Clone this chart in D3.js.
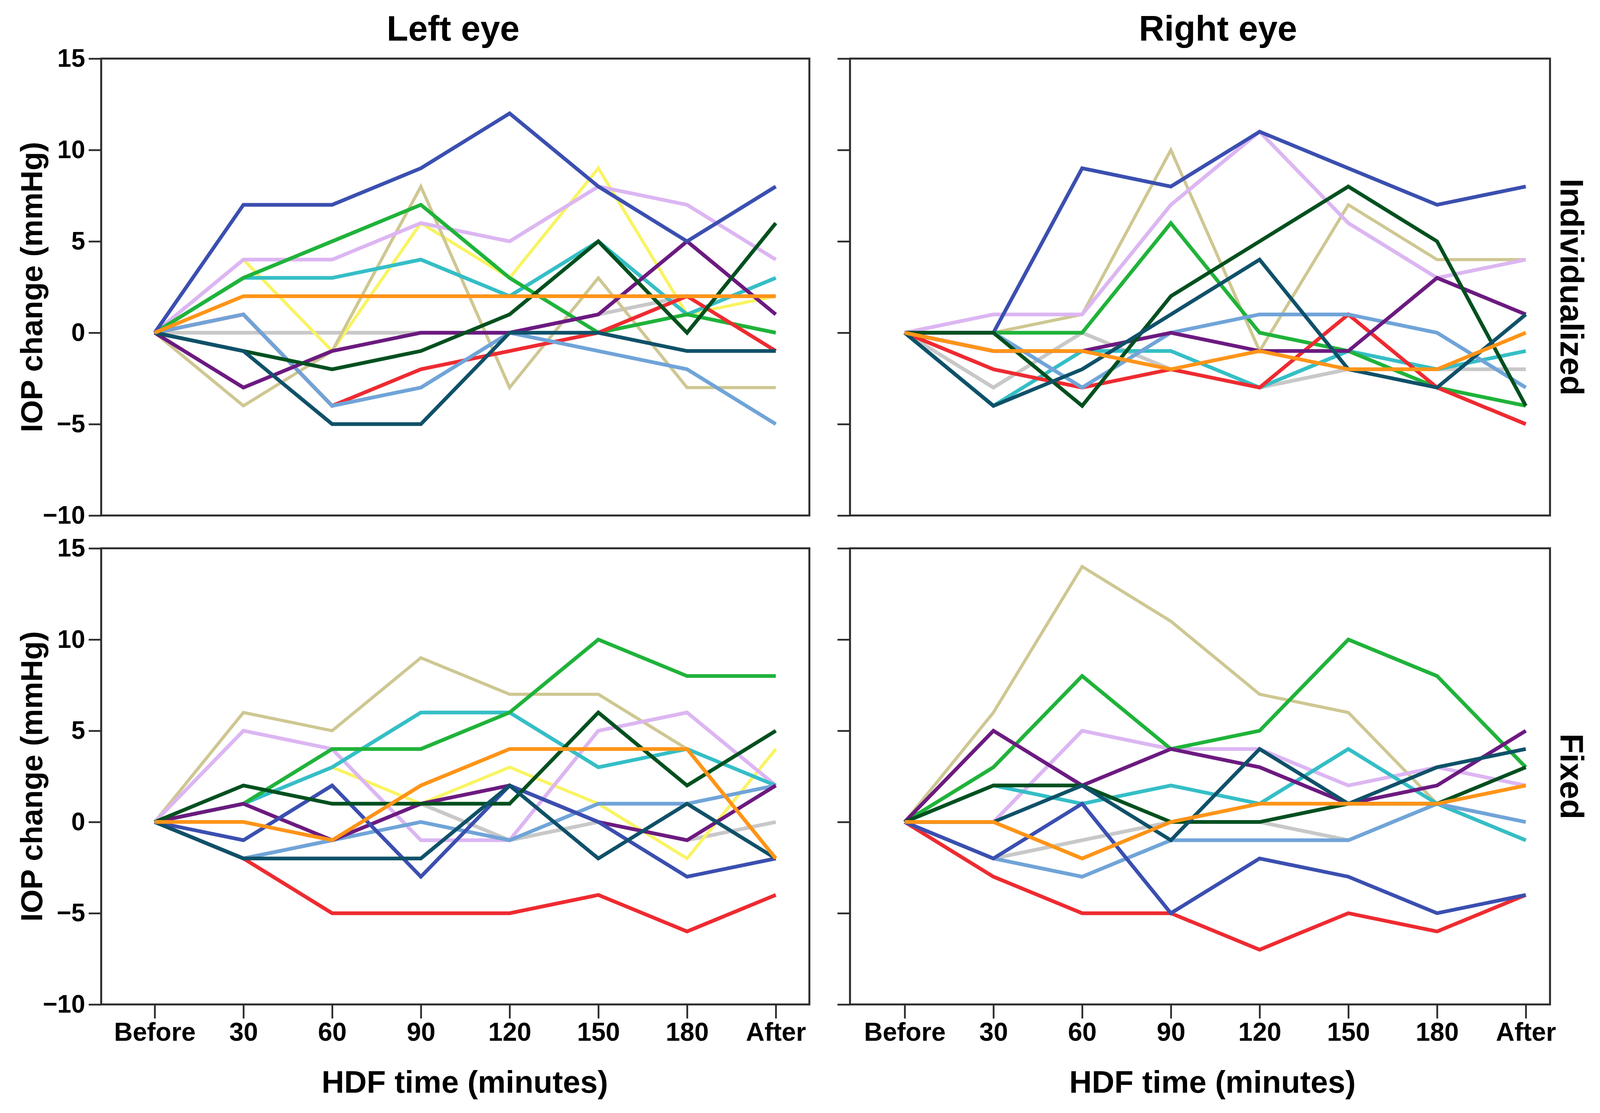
<!DOCTYPE html>
<html>
<head>
<meta charset="utf-8">
<script src="https://cdn.jsdelivr.net/npm/d3@7"></script>
<style>
  html, body { margin: 0; padding: 0; background: #fff; overflow: hidden; }
  svg { display: block; }
  svg text { font-family: "Liberation Sans", Arial, sans-serif; font-weight: bold; fill: #000; }
</style>
</head>
<body>
<svg id="chart"></svg>
<script>
// time points on the x axis
var times = ['Before', '30', '60', '90', '120', '150', '180', 'After']
var yTicks = [-10, -5, 0, 5, 10, 15]

// one colour per patient
var patientColors = ['#3b4fb0', '#1fb33a', '#dcb6f2', '#35bec6', '#ff9418', '#f9f462', '#cec792',
                     '#6c1a80', '#00501f', '#ee2b31', '#70a4d8', '#0f5169', '#c8c8c8']

// IOP change per patient, same order as the colours (null = not measured)
var leftIndividualized = [
  [0, 7, 7, 9, 12, 8, 5, 8],
  [0, 3, 5, 7, 3, 0, 1, 0],
  [0, 4, 4, 6, 5, 8, 7, 4],
  [0, 3, 3, 4, 2, 5, 1, 3],
  [0, 2, 2, 2, 2, 2, 2, 2],
  [0, 4, -1, 6, 3, 9, 1, 2],
  [0, -4, -1, 8, -3, 3, -3, -3],
  [0, -3, -1, 0, 0, 1, 5, 1],
  [0, -1, -2, -1, 1, 5, 0, 6],
  [0, 1, -4, -2, -1, 0, 2, -1],
  [0, 1, -4, -3, 0, -1, -2, -5],
  [0, -1, -5, -5, 0, 0, -1, -1],
  [0, 0, 0, 0, 0, 1, 2, 2]
]
var rightIndividualized = [
  [0, 0, 9, 8, 11, 9, 7, 8],
  [0, 0, 0, 6, 0, -1, -3, -4],
  [0, 1, 1, 7, 11, 6, 3, 4],
  [0, -4, -1, -1, -3, -1, -2, -1],
  [0, -1, -1, -2, -1, -2, -2, 0],
  null,
  [0, 0, 1, 10, -1, 7, 4, 4],
  [0, -1, -1, 0, -1, -1, 3, 1],
  [0, 0, -4, 2, 5, 8, 5, -4],
  [0, -2, -3, -2, -3, 1, -3, -5],
  [0, 0, -3, 0, 1, 1, 0, -3],
  [0, -4, -2, 1, 4, -2, -3, 1],
  [0, -3, 0, -2, -3, -2, -2, -2]
]
var leftFixed = [
  [0, -1, 2, -3, 2, 0, -3, -2],
  [0, 1, 4, 4, 6, 10, 8, 8],
  [0, 5, 4, -1, -1, 5, 6, 2],
  [0, 1, 3, 6, 6, 3, 4, 2],
  [0, 0, -1, 2, 4, 4, 4, -2],
  [0, 1, 3, 1, 3, 1, -2, 4],
  [0, 6, 5, 9, 7, 7, 4, 2],
  [0, 1, -1, 1, 2, 0, -1, 2],
  [0, 2, 1, 1, 1, 6, 2, 5],
  [0, -2, -5, -5, -5, -4, -6, -4],
  [0, -2, -1, 0, -1, 1, 1, 2],
  [0, -2, -2, -2, 2, -2, 1, -2],
  [0, -2, -1, 1, -1, 0, -1, 0]
]
var rightFixed = [
  [0, -2, 1, -5, -2, -3, -5, -4],
  [0, 3, 8, 4, 5, 10, 8, 3],
  [0, 0, 5, 4, 4, 2, 3, 2],
  [0, 2, 1, 2, 1, 4, 1, -1],
  [0, 0, -2, 0, 1, 1, 1, 2],
  null,
  [0, 6, 14, 11, 7, 6, 1, -1],
  [0, 5, 2, 4, 3, 1, 2, 5],
  [0, 2, 2, 0, 0, 1, 1, 3],
  [0, -3, -5, -5, -7, -5, -6, -4],
  [0, -2, -3, -1, -1, -1, 1, 0],
  [0, 0, 2, -1, 4, 1, 3, 4],
  [0, -2, -1, 0, 0, -1, 1, -1]
]

var colTitles = ['Left eye', 'Right eye']
var rowTitles = ['Individualized', 'Fixed']
var panelData = [[leftIndividualized, rightIndividualized], [leftFixed, rightFixed]]

// drawing order, bottom to top
var drawOrder = [12, 5, 6, 2, 3, 1, 9, 10, 7, 0, 8, 11, 4]

var W = 4286, H = 2850
var svg = d3.select('#chart').attr('width', W).attr('height', H)

var cols = [
  { x0: 259, x1: 2072, p0: 396, p1: 1986, title: 1160, xlab: 1190 },
  { x0: 2176, x1: 3968, p0: 2316, p1: 3906, title: 3118, xlab: 3104 }
]
var rows = [
  { y0: 150, y1: 1320 },
  { y0: 1404, y1: 2572 }
]

rows.forEach(function(row, ri) {
  cols.forEach(function(col, ci) {
    var x = d3.scalePoint().domain(times).range([col.p0, col.p1])
    var y = d3.scaleLinear().domain([-10, 15]).range([row.y1, row.y0])
    var g = svg.append('g')

    var line = d3.line()
      .defined(function(d) { return d != null })
      .x(function(d, i) { return x(times[i]) })
      .y(function(d) { return y(d) })

    var series = panelData[ri][ci]
    drawOrder.forEach(function(p) {
      if (!series[p]) return
      g.append('path')
        .datum(series[p])
        .attr('d', line)
        .attr('fill', 'none')
        .attr('stroke', patientColors[p])
        .attr('stroke-width', (p === 6 || p === 5) ? 8 : 9.5)
        .attr('stroke-linejoin', 'miter')
    })

    g.append('rect')
      .attr('x', col.x0).attr('y', row.y0)
      .attr('width', col.x1 - col.x0).attr('height', row.y1 - row.y0)
      .attr('fill', 'none').attr('stroke', '#2b2b2b').attr('stroke-width', 5)

    var yAxis = d3.axisLeft(y).tickValues(yTicks).tickSize(32).tickPadding(9)
      .tickFormat(ci === 0 ? d3.format('d') : '')
    var ya = g.append('g').attr('transform', 'translate(' + col.x0 + ',0)').call(yAxis)
    ya.select('.domain').remove()
    ya.selectAll('line').attr('stroke', '#2b2b2b').attr('stroke-width', 4.5)
    ya.selectAll('text').style('font-size', '64px').attr('fill', '#000')

    if (ri === 1) {
      var xAxis = d3.axisBottom(x).tickSize(36).tickPadding(10)
      var xa = g.append('g').attr('transform', 'translate(0,' + row.y1 + ')').call(xAxis)
      xa.select('.domain').remove()
      xa.selectAll('line').attr('stroke', '#2b2b2b').attr('stroke-width', 4.5)
      xa.selectAll('text').style('font-size', '66px').attr('fill', '#000')

      svg.append('text')
        .attr('x', col.xlab).attr('y', 2798)
        .attr('text-anchor', 'middle')
        .style('font-size', '80px')
        .text('HDF time (minutes)')
    }

    if (ri === 0) {
      svg.append('text')
        .attr('x', col.title).attr('y', 104)
        .attr('text-anchor', 'middle')
        .style('font-size', '90px')
        .text(colTitles[ci])
    }

    if (ci === 0) {
      svg.append('text')
        .attr('transform', 'translate(108,' + (row.y0 + row.y1) / 2 + ') rotate(-90)')
        .attr('text-anchor', 'middle')
        .style('font-size', '78px')
        .text('IOP change (mmHg)')
    } else {
      svg.append('text')
        .attr('transform', 'translate(3995,' + (row.y0 + row.y1) / 2 + ') rotate(90)')
        .attr('text-anchor', 'middle')
        .style('font-size', '84px')
        .text(rowTitles[ri])
    }
  })
})

svg.append('text')
  .attr('transform', 'translate(4170,1370) rotate(90)')
  .attr('text-anchor', 'middle')
  .style('font-size', '92px')
  .text('Dialysate sodium profile')
</script>
</body>
</html>
